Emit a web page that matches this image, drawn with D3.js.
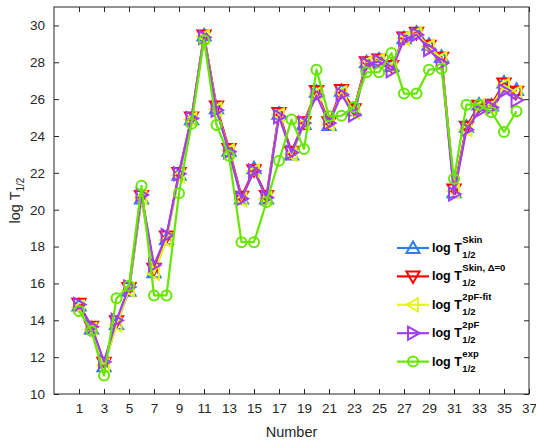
<!DOCTYPE html>
<html>
<head>
<meta charset="utf-8">
<script src="https://cdn.jsdelivr.net/npm/d3@7"></script>
<style>
  body { margin: 0; background: #ffffff; }
  svg { display: block; font-family: "Liberation Sans", Arial, sans-serif; }
</style>
</head>
<body>
<svg id="chart" width="536" height="443"></svg>
<script>
// x values: sample number
const numbers = d3.range(1, 37);

// log T1/2 series
const skin = [14.8, 13.55, 11.5, 13.8, 15.6, 20.6, 16.6, 18.4, 21.9, 24.9, 29.45, 25.5, 23.2, 20.6, 22.25, 20.6, 25.2, 23.0, 24.65, 26.4, 24.6, 26.45, 25.4, 28.0, 28.15, 27.8, 29.3, 29.6, 28.95, 28.3, 20.95, 24.5, 25.7, 25.65, 26.9, 26.5];
const skinD0 = [14.9, 13.65, 11.7, 13.95, 15.75, 20.75, 16.8, 18.55, 22.0, 25.0, 29.45, 25.6, 23.3, 20.7, 22.15, 20.75, 25.25, 23.15, 24.75, 26.45, 24.75, 26.5, 25.45, 28.0, 28.15, 27.8, 29.35, 29.6, 28.9, 28.25, 21.1, 24.5, 25.65, 25.7, 26.85, 26.4];
const fit2pF = [14.7, 13.5, 11.55, 13.75, 15.65, 20.65, 16.55, 18.35, 21.85, 24.9, 29.4, 25.45, 23.2, 20.55, 22.1, 20.6, 25.15, 23.0, 24.7, 26.3, 24.65, 26.35, 25.3, 27.95, 28.1, 27.75, 29.3, 29.55, 28.85, 28.2, 21.0, 24.35, 25.6, 25.6, 26.75, 26.35];
const pF2 = [14.85, 13.65, 11.75, 14.0, 15.8, 20.8, 17.0, 18.6, 21.95, 24.95, 29.35, 25.4, 23.15, 20.6, 22.1, 20.65, 25.05, 23.1, 24.7, 26.2, 24.7, 26.25, 25.15, 27.9, 28.05, 27.55, 29.25, 29.5, 28.7, 27.95, 20.85, 24.35, 25.35, 25.55, 26.45, 25.95];
const expt = [14.51, 13.42, 11.0, 15.2, 15.87, 21.3, 15.35, 15.35, 20.9, 24.67, 29.2, 24.6, 22.93, 18.24, 18.24, 20.42, 22.66, 24.89, 23.3, 27.6, 25.07, 25.1, 25.58, 27.46, 27.46, 28.5, 26.3, 26.3, 27.6, 27.65, 21.68, 25.7, 25.7, 25.29, 24.22, 25.34];

const xTicks = d3.range(1, 38, 2);
const yTicks = d3.range(10, 31, 2);

const series = [
    { name: "skin", values: skin, color: "#2f7fe6", marker: "up", sup: "Skin" },
    { name: "skinD0", values: skinD0, color: "#ff0000", marker: "down", sup: "Skin, \u0394=0" },
    { name: "fit", values: fit2pF, color: "#e4f51a", marker: "left", sup: "2pF-fit" },
    { name: "pF", values: pF2, color: "#a03ef5", marker: "right", sup: "2pF" },
    { name: "exp", values: expt, color: "#66e600", marker: "circle", sup: "exp" }
];

const margin = { l: 54, r: 7, t: 7, b: 49 };
const svg = d3.select("#chart");
const width = +svg.attr("width"), height = +svg.attr("height");
const x = d3.scaleLinear().domain([-1, 37]).range([margin.l, width - margin.r]);
const y = d3.scaleLinear().domain([10, 31]).range([height - margin.b, margin.t]);
const axisColor = "#262626";

// marker shapes
function markerPath(type, s) {
    const h = s * 0.6;
    if (type === "up") return `M0,${-h}L${h},${h * 0.75}L${-h},${h * 0.75}Z`;
    if (type === "down") return `M0,${h}L${h},${-h * 0.75}L${-h},${-h * 0.75}Z`;
    if (type === "left") return `M${-h},0L${h * 0.75},${-h}L${h * 0.75},${h}Z`;
    if (type === "right") return `M${h},0L${-h * 0.75},${-h}L${-h * 0.75},${h}Z`;
    return d3.symbol().type(d3.symbolCircle).size(Math.PI * (s * 0.5) ** 2)();
}

// axes with inward ticks on all four sides
const tickLen = 5;
svg.append("g")
    .attr("transform", `translate(0,${y(10)})`)
    .call(d3.axisBottom(x).tickValues(xTicks).tickSizeInner(-tickLen).tickSizeOuter(0).tickPadding(9))
    .call(g => g.select(".domain").remove());
svg.append("g")
    .attr("transform", `translate(0,${margin.t})`)
    .call(d3.axisTop(x).tickValues(xTicks).tickSizeInner(-tickLen).tickSizeOuter(0).tickFormat(""))
    .call(g => g.select(".domain").remove());
svg.append("g")
    .attr("transform", `translate(${margin.l},0)`)
    .call(d3.axisLeft(y).tickValues(yTicks).tickSizeInner(-tickLen).tickSizeOuter(0).tickPadding(9))
    .call(g => g.select(".domain").remove());
svg.append("g")
    .attr("transform", `translate(${width - margin.r},0)`)
    .call(d3.axisRight(y).tickValues(yTicks).tickSizeInner(-tickLen).tickSizeOuter(0).tickFormat(""))
    .call(g => g.select(".domain").remove());

svg.selectAll(".tick line").attr("stroke", axisColor);
svg.selectAll(".tick text").attr("fill", axisColor).style("font-size", "13.5px")
    .style("font-family", "'Liberation Sans', Arial, sans-serif");

svg.append("rect")
    .attr("x", margin.l).attr("y", margin.t)
    .attr("width", width - margin.r - margin.l)
    .attr("height", y(10) - margin.t)
    .attr("fill", "none").attr("stroke", axisColor).attr("stroke-width", 1);

// series
const line = d3.line().x((d, i) => x(numbers[i])).y(d => y(d));
series.forEach(s => {
    const g = svg.append("g").attr("class", "series-" + s.name);
    g.append("path")
        .datum(s.values)
        .attr("d", line)
        .attr("fill", "none")
        .attr("stroke", s.color)
        .attr("stroke-width", 2.2)
        .attr("stroke-linejoin", "round");
    g.selectAll("path.mk").data(s.values)
        .join("path")
        .attr("class", "mk")
        .attr("d", markerPath(s.marker, s.marker === "circle" ? 10 : 11))
        .attr("transform", (d, i) => `translate(${x(numbers[i])},${y(d)})`)
        .attr("fill", "none")
        .attr("stroke", s.color)
        .attr("stroke-width", 2);
});

// axis labels
svg.append("text")
    .attr("x", x(18)).attr("y", 437)
    .attr("text-anchor", "middle")
    .attr("fill", axisColor)
    .style("font-size", "14.5px")
    .text("Number");

const yl = svg.append("text")
    .attr("transform", `translate(20,${y(20.5)}) rotate(-90)`)
    .attr("text-anchor", "middle")
    .attr("fill", axisColor)
    .style("font-size", "14.5px");
yl.append("tspan").text("log T");
yl.append("tspan").attr("dy", 4).style("font-size", "10px").text("1/2");

// legend
const legend = svg.append("g").attr("transform", "translate(397,248)");
series.forEach((s, i) => {
    const row = legend.append("g").attr("transform", `translate(0,${i * 28.4})`);
    row.append("line").attr("x1", 0).attr("x2", 32)
        .attr("stroke", s.color).attr("stroke-width", 2.2);
    row.append("path")
        .attr("d", markerPath(s.marker, s.marker === "circle" ? 10 : 11))
        .attr("transform", "translate(16,0)")
        .attr("fill", "none").attr("stroke", s.color).attr("stroke-width", 2);
    const t = row.append("text").attr("x", 35).attr("y", 4)
        .attr("fill", "#000").style("font-weight", "bold").style("font-size", "12.5px")
        .text("log T");
    const end = 35 + t.node().getComputedTextLength() + 0.5;
    row.append("text").attr("x", end).attr("y", -5)
        .style("font-weight", "bold").style("font-size", "9.5px").text(s.sup);
    row.append("text").attr("x", end).attr("y", 10)
        .style("font-weight", "bold").style("font-size", "9.5px").text("1/2");
});
</script>
</body>
</html>
